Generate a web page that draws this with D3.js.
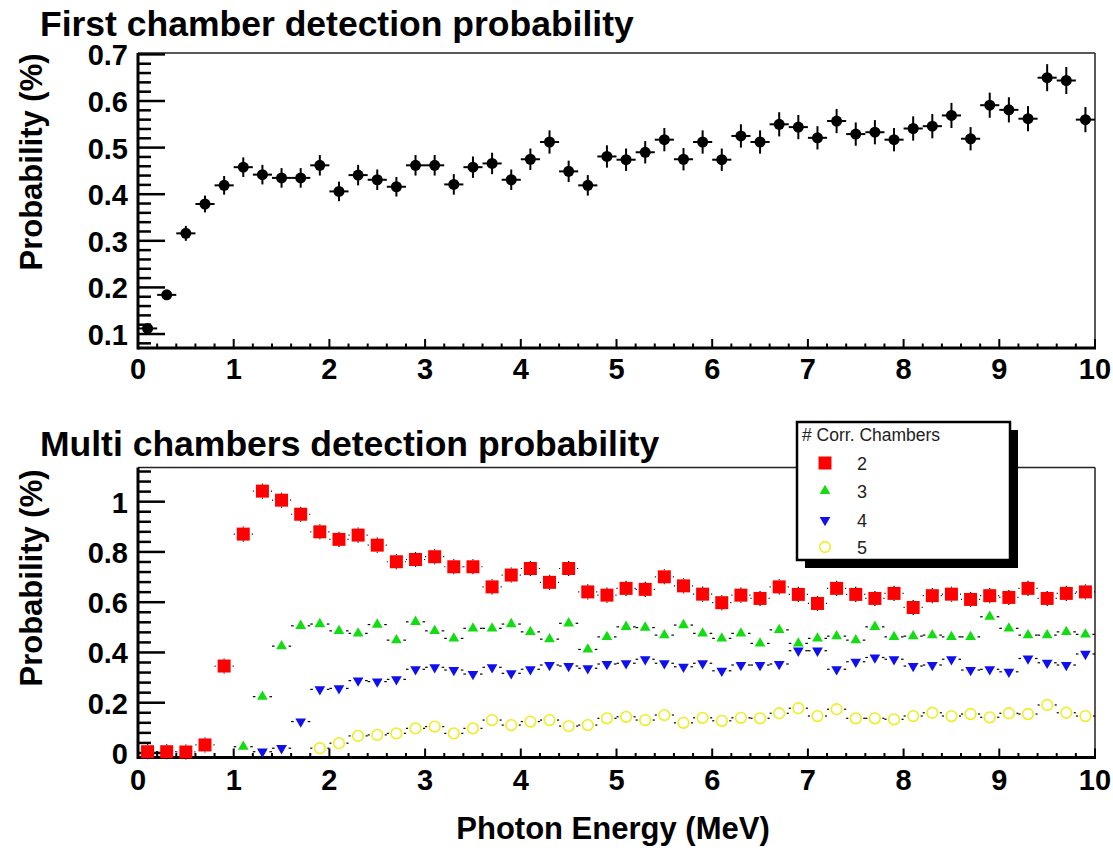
<!DOCTYPE html>
<html>
<head>
<meta charset="utf-8">
<script src="https://cdn.jsdelivr.net/npm/d3@7"></script>
<style>
  body { margin: 0; background: #fff; }
  svg { display: block; }
  text { font-family: "Liberation Sans", Arial, Helvetica, sans-serif; fill: #000; }
</style>
</head>
<body>
<svg id="chart" width="1113" height="851"></svg>
<script>
// bin centres (MeV)
var binCenters = [0.1, 0.3, 0.5, 0.7, 0.9, 1.1, 1.3, 1.5, 1.7, 1.9,
                  2.1, 2.3, 2.5, 2.7, 2.9, 3.1, 3.3, 3.5, 3.7, 3.9,
                  4.1, 4.3, 4.5, 4.7, 4.9, 5.1, 5.3, 5.5, 5.7, 5.9,
                  6.1, 6.3, 6.5, 6.7, 6.9, 7.1, 7.3, 7.5, 7.7, 7.9,
                  8.1, 8.3, 8.5, 8.7, 8.9, 9.1, 9.3, 9.5, 9.7, 9.9];
var binHalfWidth = 0.1;

// first chamber
var firstProb = [0.112, 0.184, 0.316, 0.379, 0.419, 0.458, 0.442, 0.435, 0.435, 0.462,
                 0.406, 0.441, 0.431, 0.416, 0.462, 0.462, 0.421, 0.458, 0.466, 0.431,
                 0.475, 0.512, 0.449, 0.419, 0.481, 0.474, 0.490, 0.517, 0.475, 0.512,
                 0.474, 0.525, 0.512, 0.550, 0.544, 0.521, 0.557, 0.529, 0.533, 0.517,
                 0.541, 0.546, 0.569, 0.519, 0.591, 0.581, 0.562, 0.650, 0.644, 0.560];
var firstErr = [0.008, 0.010, 0.016, 0.018, 0.020, 0.021, 0.021, 0.021, 0.021, 0.022,
                0.021, 0.022, 0.022, 0.021, 0.022, 0.022, 0.022, 0.023, 0.023, 0.022,
                0.023, 0.025, 0.023, 0.022, 0.024, 0.024, 0.024, 0.025, 0.024, 0.025,
                0.024, 0.025, 0.025, 0.026, 0.026, 0.025, 0.026, 0.025, 0.026, 0.025,
                0.026, 0.026, 0.027, 0.025, 0.027, 0.027, 0.027, 0.029, 0.029, 0.027];

// multi chambers, by number of correlated chambers
var corr2 = [0.005, 0.005, 0.004, 0.032, 0.346, 0.871, 1.042, 1.006, 0.950, 0.880,
             0.850, 0.867, 0.827, 0.761, 0.770, 0.781, 0.741, 0.741, 0.661, 0.708,
             0.734, 0.679, 0.734, 0.641, 0.628, 0.655, 0.651, 0.701, 0.665, 0.632,
             0.598, 0.628, 0.615, 0.661, 0.631, 0.595, 0.655, 0.631, 0.615, 0.635,
             0.579, 0.626, 0.632, 0.611, 0.626, 0.619, 0.655, 0.615, 0.635, 0.641];
var corr3 = [null, null, null, null, null, 0.025, 0.224, 0.425, 0.506, 0.513,
             0.486, 0.476, 0.511, 0.449, 0.522, 0.486, 0.456, 0.496, 0.496, 0.513,
             0.482, 0.453, 0.516, 0.412, 0.462, 0.502, 0.499, 0.469, 0.509, 0.476,
             0.456, 0.476, 0.436, 0.490, 0.436, 0.456, 0.465, 0.449, 0.502, 0.462,
             0.465, 0.469, 0.462, 0.462, 0.542, 0.496, 0.469, 0.469, 0.482, 0.472];
var corr4 = [null, null, null, null, null, null, 0.005, 0.019, 0.125, 0.253,
             0.257, 0.288, 0.284, 0.293, 0.333, 0.341, 0.330, 0.314, 0.341, 0.317,
             0.333, 0.350, 0.346, 0.337, 0.354, 0.357, 0.373, 0.357, 0.343, 0.357,
             0.327, 0.350, 0.350, 0.354, 0.407, 0.407, 0.333, 0.363, 0.380, 0.373,
             0.346, 0.350, 0.373, 0.330, 0.333, 0.323, 0.376, 0.359, 0.350, 0.394];
var corr5 = [null, null, null, null, null, null, null, null, null, 0.019,
             0.039, 0.068, 0.072, 0.078, 0.098, 0.105, 0.078, 0.098, 0.131, 0.111,
             0.125, 0.131, 0.107, 0.111, 0.138, 0.144, 0.131, 0.151, 0.120, 0.140,
             0.128, 0.140, 0.138, 0.158, 0.178, 0.147, 0.174, 0.138, 0.138, 0.134,
             0.147, 0.160, 0.147, 0.155, 0.142, 0.158, 0.155, 0.191, 0.160, 0.147];
var corrErr = [0.03, 0.015, 0.012, 0.008];

var corrLabels = ["2", "3", "4", "5"];
var corrColors = ["#ff0000", "#11dd11", "#1010ee", "#eeee22"];

var xTicks = [0, 1, 2, 3, 4, 5, 6, 7, 8, 9, 10];

var svg = d3.select("#chart");
svg.append("rect").attr("width", 1113).attr("height", 851).attr("fill", "#fff");

var x = d3.scaleLinear().domain([0, 10]).range([138, 1095]);

var panels = [
    { title: "First chamber detection probability", titleY: 36,
      y: d3.scaleLinear().domain([0.07, 0.703]).range([348, 53]),
      major: 0.1, minor: 0.02, labelY: 162, xLabelY: 379 },
    { title: "Multi chambers detection probability", titleY: 456,
      y: d3.scaleLinear().domain([-0.018, 1.136]).range([757.5, 467.5]),
      major: 0.2, minor: 0.04, labelY: 578, xLabelY: 790 }
];

function stepTicks(domain, step) {
    var out = [];
    for (var k = Math.ceil(domain[0] / step - 1e-6); k * step <= domain[1] + 1e-9; k++) {
        out.push(+(k * step).toFixed(4));
    }
    return out;
}

panels.forEach(function(p) {
    var y = p.y,
        y0 = y.range()[0], y1 = y.range()[1],
        x0 = x.range()[0], x1 = x.range()[1];
    var g = svg.append("g");

    // frame (thin top/right)
    g.append("line").attr("x1", x0).attr("x2", x1).attr("y1", y1).attr("y2", y1)
        .attr("stroke", "#222").attr("stroke-width", 1.5);
    g.append("line").attr("x1", x1).attr("x2", x1).attr("y1", y1).attr("y2", y0)
        .attr("stroke", "#222").attr("stroke-width", 1.5);

    // y ticks, pointing inward
    stepTicks(y.domain(), p.minor).forEach(function(v) {
        var isMajor = Math.abs(v / p.major - Math.round(v / p.major)) < 1e-6;
        g.append("line").attr("x1", x0).attr("x2", x0 + (isMajor ? 27 : 13))
            .attr("y1", y(v)).attr("y2", y(v))
            .attr("stroke", "#000").attr("stroke-width", 2.5);
    });
    stepTicks(y.domain(), p.major).forEach(function(v) {
        g.append("text").attr("x", 128).attr("y", y(v) + 11)
            .attr("text-anchor", "end")
            .style("font-size", "29px").style("font-weight", "bold")
            .text(d3.format("~g")(v));
    });

    // x ticks
    stepTicks(x.domain(), 0.2).forEach(function(v) {
        var isMajor = Math.abs(v - Math.round(v)) < 1e-6;
        g.append("line").attr("x1", x(v)).attr("x2", x(v))
            .attr("y1", y0).attr("y2", y0 - (isMajor ? 9 : 4.5))
            .attr("stroke", "#000").attr("stroke-width", 2);
    });
    xTicks.forEach(function(v) {
        g.append("text").attr("x", x(v)).attr("y", p.xLabelY)
            .attr("text-anchor", "middle")
            .style("font-size", "29px").style("font-weight", "bold")
            .text(v);
    });

    // thick axes
    g.append("line").attr("x1", x0).attr("x2", x0).attr("y1", y1).attr("y2", y0 + 1.5)
        .attr("stroke", "#000").attr("stroke-width", 3);
    g.append("line").attr("x1", x0).attr("x2", x1 + 1).attr("y1", y0).attr("y2", y0)
        .attr("stroke", "#000").attr("stroke-width", 3);

    // titles
    svg.append("text").attr("x", 40).attr("y", p.titleY)
        .style("font-size", "35.5px").style("font-weight", "bold")
        .text(p.title);
    svg.append("text")
        .attr("transform", "translate(42," + p.labelY + ") rotate(-90)")
        .attr("text-anchor", "middle")
        .style("font-size", "31px").style("font-weight", "bold")
        .text("Probability (%)");
});

//
// top panel points
//
var yTop = panels[0].y;
var gTop = svg.append("g");
binCenters.forEach(function(c, i) {
    var v = firstProb[i], e = firstErr[i];
    gTop.append("line").attr("x1", x(c - binHalfWidth)).attr("x2", x(c + binHalfWidth))
        .attr("y1", yTop(v)).attr("y2", yTop(v)).attr("stroke", "#000").attr("stroke-width", 2);
    gTop.append("line").attr("x1", x(c)).attr("x2", x(c))
        .attr("y1", yTop(v - e)).attr("y2", yTop(v + e)).attr("stroke", "#000").attr("stroke-width", 2);
    gTop.append("circle").attr("cx", x(c)).attr("cy", yTop(v)).attr("r", 5.5).attr("fill", "#000");
});

//
// bottom panel points
//
var yBot = panels[1].y;
var series = [corr2, corr3, corr4, corr5];
var symbols = [
    { type: d3.symbolSquare, size: 169, rot: 0, half: 6.5, open: false },
    { type: d3.symbolTriangle, size: 50, rot: 0, half: 5, open: false },
    { type: d3.symbolTriangle, size: 50, rot: 180, half: 5, open: false },
    { type: d3.symbolCircle, size: 90, rot: 0, half: 5.5, open: true }
];

function drawMarker(g, k, cx, cy) {
    var m = symbols[k];
    var path = g.append("path")
        .attr("d", d3.symbol().type(m.type).size(m.size)())
        .attr("transform", "translate(" + cx + "," + cy + ") rotate(" + m.rot + ")");
    if (m.open) {
        path.attr("fill", "none").attr("stroke", corrColors[k]).attr("stroke-width", 1.6);
    } else {
        path.attr("fill", corrColors[k]);
    }
}

var gBot = svg.append("g");
series.forEach(function(vals, k) {
    var gap = symbols[k].half + 2;
    vals.forEach(function(v, i) {
        if (v === null) return;
        var cx = x(binCenters[i]), cy = yBot(v),
            xl = x(binCenters[i] - binHalfWidth), xr = x(binCenters[i] + binHalfWidth),
            ePx = cy - yBot(v + corrErr[k]);
        gBot.append("line").attr("x1", xl).attr("x2", cx - gap).attr("y1", cy).attr("y2", cy)
            .attr("stroke", "#000").attr("stroke-width", 1.2);
        gBot.append("line").attr("x1", cx + gap).attr("x2", xr).attr("y1", cy).attr("y2", cy)
            .attr("stroke", "#000").attr("stroke-width", 1.2);
        // vertical bars only outside the marker
        if (ePx > symbols[k].half) {
            [-1, 1].forEach(function(sgn) {
                gBot.append("line").attr("x1", cx).attr("x2", cx)
                    .attr("y1", cy + sgn * symbols[k].half).attr("y2", cy + sgn * ePx)
                    .attr("stroke", "#000").attr("stroke-width", 1.2);
            });
        }
    });
    vals.forEach(function(v, i) {
        if (v === null) return;
        drawMarker(gBot, k, x(binCenters[i]), yBot(v));
    });
});

svg.append("text").attr("x", 613).attr("y", 839)
    .attr("text-anchor", "middle")
    .style("font-size", "31px").style("font-weight", "bold")
    .text("Photon Energy (MeV)");

//
// legend
//
var leg = svg.append("g");
leg.append("rect").attr("x", 805).attr("y", 430).attr("width", 213).attr("height", 138).attr("fill", "#000");
leg.append("rect").attr("x", 797).attr("y", 422).attr("width", 213).attr("height", 138)
    .attr("fill", "#fff").attr("stroke", "#000").attr("stroke-width", 2.5);
leg.append("text").attr("x", 802).attr("y", 441)
    .style("font-size", "17.5px").style("fill", "#222")
    .text("# Corr. Chambers");
var legY = [463, 491, 520, 547];
corrLabels.forEach(function(lbl, k) {
    drawMarker(leg, k, 825, legY[k]);
    leg.append("text").attr("x", 857).attr("y", legY[k] + 6.5)
        .style("font-size", "18px").style("fill", "#222")
        .text(lbl);
});
</script>
</body>
</html>
